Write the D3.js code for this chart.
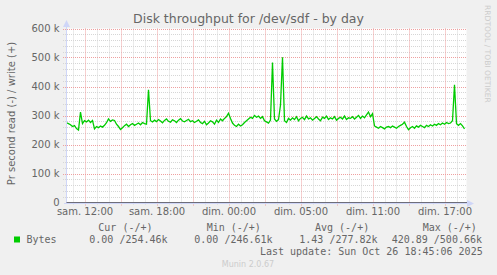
<!DOCTYPE html>
<html>
<head>
<meta charset="utf-8">
<script src="https://cdn.jsdelivr.net/npm/d3@7"></script>
<style>
  body { margin: 0; background: #f0f0f0; }
  svg { display: block; }
</style>
</head>
<body>
<script>
const width = 497
const height = 275

// write throughput (bytes/s, in thousands), one sample every 10 minutes
const startTime = new Date('2025-10-25T08:30:00Z')
const endTime = new Date('2025-10-26T17:50:00Z')
const stepMinutes = 10
const writeK = [
  275, 272, 268, 262, 265, 255, 250, 312, 272, 282,
  278, 284, 276, 283, 254, 262, 258, 264, 260, 266,
  275, 288, 280, 285, 283, 270, 262, 252, 258, 265,
  270, 262, 268, 272, 266, 270, 274, 268, 276, 272,
  270, 389, 282, 278, 284, 279, 286, 281, 275, 283,
  288, 280, 277, 285, 282, 276, 284, 289, 281, 278,
  283, 287, 279, 282, 276, 280, 285, 276, 272, 280,
  268, 274, 282, 278, 270, 284, 276, 288, 282, 290,
  296, 308, 290, 274, 266, 262, 270, 264, 268, 276,
  282, 288, 294, 290, 300, 294, 298, 290, 296, 282,
  278, 274, 284, 483, 288, 280, 286, 336, 501, 282,
  276, 290, 284, 292, 286, 296, 282, 290, 294, 286,
  298, 288, 292, 284, 290, 296, 288, 282, 294, 290,
  298, 286, 292, 288, 296, 284, 290, 294, 288, 298,
  286, 292, 290, 296, 288, 294, 300, 290, 298, 292,
  302, 312, 296, 306, 264, 260, 256, 262, 258, 254,
  260, 262, 258, 264, 260, 256, 262, 266, 270, 277,
  262, 251, 258, 262, 256, 264, 260, 266, 262, 258,
  266, 262, 268, 264, 270, 266, 272, 268, 274, 270,
  276, 272, 274, 282, 406, 272, 266, 272, 264, 254
]

const yMajor = [0, 100000, 200000, 300000, 400000, 500000, 600000]
const yTickLabels = ['0', '100 k', '200 k', '300 k', '400 k', '500 k', '600 k']
const xLabelTimes = ['2025-10-25T10:00Z', '2025-10-25T16:00Z', '2025-10-25T22:00Z',
  '2025-10-26T04:00Z', '2025-10-26T10:00Z', '2025-10-26T16:00Z'].map((s) => new Date(s))
const xTickLabels = ['sam. 12:00', 'sam. 18:00', 'dim. 00:00', 'dim. 05:00', 'dim. 11:00', 'dim. 17:00']

const legendHeaders = ['Cur (-/+)', 'Min (-/+)', 'Avg (-/+)', 'Max (-/+)']
const legendValues = ['0.00 /254.46k', '0.00 /246.61k', '1.43 /277.82k', '420.89 /500.66k']
const seriesName = 'Bytes'
const lastUpdate = 'Last update: Sun Oct 26 18:45:06 2025'

const green = '#00cc00'
const fontColor = '#666666'
const axisColor = '#cfd6f8'

const data = writeK.map((v, i) => ({
  t: new Date(startTime.getTime() + i * stepMinutes * 60000),
  v: v * 1000
}))

const x = d3.scaleUtc().domain([startTime, endTime]).range([66.5, 466.5])
const y = d3.scaleLinear().domain([0, 600000]).range([202.5, 28.5])

const svg = d3.select('body').append('svg')
  .attr('width', width)
  .attr('height', height)
  .attr('font-family', 'DejaVu Sans, sans-serif')

svg.append('rect').attr('width', width).attr('height', height).attr('fill', '#f0f0f0')
svg.append('rect')
  .attr('x', 66.5).attr('y', 28.5)
  .attr('width', 400).attr('height', 174)
  .attr('fill', '#fff')

// grid
const grid = svg.append('g').attr('fill', 'none').attr('stroke-width', 1).attr('stroke-dasharray', '1,1')
const hours = d3.utcHour.range(startTime, endTime)
grid.selectAll('.vminor')
  .data(hours.filter((d) => d.getUTCHours() % 3 !== 1))
  .join('line')
  .attr('x1', (d) => Math.round(x(d)) + 0.5).attr('x2', (d) => Math.round(x(d)) + 0.5)
  .attr('y1', 28.5).attr('y2', 205)
  .attr('stroke', '#d6d6d6')
const yMinor = d3.range(20000, 600000, 20000).filter((d) => d % 100000 !== 0)
grid.selectAll('.hminor')
  .data(yMinor)
  .join('line')
  .attr('x1', 63).attr('x2', 467)
  .attr('y1', (d) => Math.round(y(d)) + 0.5).attr('y2', (d) => Math.round(y(d)) + 0.5)
  .attr('stroke', '#d6d6d6')
grid.selectAll('.vmajor')
  .data(hours.filter((d) => d.getUTCHours() % 3 === 1))
  .join('line')
  .attr('x1', (d) => Math.round(x(d)) + 0.5).attr('x2', (d) => Math.round(x(d)) + 0.5)
  .attr('y1', 28.5).attr('y2', 206)
  .attr('stroke', '#eea0a0')
grid.selectAll('.hmajor')
  .data(yMajor.slice(1))
  .join('line')
  .attr('x1', 63).attr('x2', 467)
  .attr('y1', (d) => Math.round(y(d)) + 0.5).attr('y2', (d) => Math.round(y(d)) + 0.5)
  .attr('stroke', '#eea0a0')

// write series
const line = d3.line().x((d) => x(d.t)).y((d) => y(d.v))
svg.append('path')
  .datum(data)
  .attr('fill', 'none')
  .attr('stroke', green)
  .attr('stroke-width', 1.3)
  .attr('d', line)

// axes and arrows
svg.append('line').attr('x1', 66.5).attr('x2', 66.5).attr('y1', 204).attr('y2', 24).attr('stroke', axisColor)
svg.append('line').attr('x1', 64).attr('x2', 468).attr('y1', 203.5).attr('y2', 203.5).attr('stroke', axisColor)
svg.append('line').attr('x1', 66.5).attr('x2', 467).attr('y1', 202.5).attr('y2', 202.5).attr('stroke', '#6e6e7a')
svg.append('path').attr('d', 'M63,27L66.5,20L70,27Z').attr('fill', axisColor)
svg.append('path').attr('d', 'M467,200L474,203.5L467,207Z').attr('fill', axisColor)

const yAxis = d3.axisLeft(y).tickValues(yMajor).tickFormat((d, i) => yTickLabels[i]).tickSize(0).tickPadding(7)
svg.append('g')
  .attr('transform', 'translate(66.5,0)')
  .call(yAxis)
  .call((g) => g.select('.domain').remove())
  .call((g) => g.selectAll('text').attr('fill', fontColor).attr('font-size', 10).attr('font-family', 'DejaVu Sans'))

const xAxis = d3.axisBottom(x).tickValues(xLabelTimes).tickFormat((d, i) => xTickLabels[i]).tickSize(0).tickPadding(5)
svg.append('g')
  .attr('transform', 'translate(0,202.5)')
  .call(xAxis)
  .call((g) => g.select('.domain').remove())
  .call((g) => g.selectAll('text').attr('fill', fontColor).attr('font-size', 10).attr('font-family', 'DejaVu Sans'))

// titles
svg.append('text')
  .attr('x', 248.5).attr('y', 23)
  .attr('text-anchor', 'middle')
  .attr('font-size', 12.5)
  .attr('fill', fontColor)
  .text('Disk throughput for /dev/sdf - by day')

svg.append('text')
  .attr('transform', 'translate(14.5,113.5) rotate(-90)')
  .attr('text-anchor', 'middle')
  .attr('font-size', 10)
  .attr('fill', fontColor)
  .text('Pr second read (-) / write (+)')

svg.append('text')
  .attr('transform', 'translate(484.5,5) rotate(90)')
  .attr('font-size', 7.6)
  .attr('fill', '#cccccc')
  .text('RRDTOOL / TOBI OETIKER')

// legend
const legend = svg.append('g')
  .attr('font-family', 'DejaVu Sans Mono, monospace')
  .attr('font-size', 10)
  .attr('fill', fontColor)
const headerX = [98.3, 206.7, 315, 422.7]
const valueX = [89.3, 194.3, 299.3, 391.7]
legend.selectAll('.hdr').data(legendHeaders).join('text')
  .attr('x', (d, i) => headerX[i]).attr('y', 231)
  .text((d) => d)
legend.selectAll('.val').data(legendValues).join('text')
  .attr('x', (d, i) => valueX[i]).attr('y', 243)
  .text((d) => d)
legend.append('rect').attr('x', 14).attr('y', 236.5).attr('width', 6).attr('height', 6).attr('fill', green)
legend.append('text').attr('x', 26.5).attr('y', 243).text(seriesName)
legend.append('text').attr('x', 482.7).attr('y', 254.5).attr('text-anchor', 'end').text(lastUpdate)

svg.append('text')
  .attr('x', 248).attr('y', 267)
  .attr('text-anchor', 'middle')
  .attr('font-size', 8)
  .attr('fill', '#cccccc')
  .text('Munin 2.0.67')
</script>
</body>
</html>
